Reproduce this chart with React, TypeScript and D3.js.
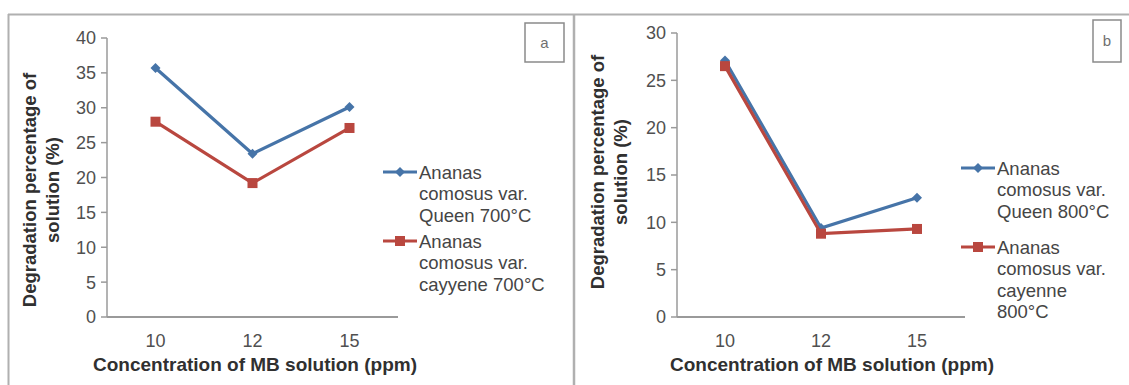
import React from "react";
import * as d3 from "d3";

const categories = ["10", "12", "15"];
const queen700 = [35.7, 23.4, 30.1];
const cayenne700 = [28.0, 19.2, 27.1];
const queen800 = [27.1, 9.4, 12.6];
const cayenne800 = [26.5, 8.8, 9.3];
const ticksA = [0, 5, 10, 15, 20, 25, 30, 35, 40];
const ticksB = [0, 5, 10, 15, 20, 25, 30];
const legendA = [
  ["Ananas", "comosus var.", "Queen 700°C"],
  ["Ananas", "comosus var.", "cayyene 700°C"],
];
const legendB = [
  ["Ananas", "comosus var.", "Queen 800°C"],
  ["Ananas", "comosus var.", "cayenne", "800°C"],
];

const BLUE = "#4674a8";
const RED = "#b9473f";
const FONT = "'Liberation Sans', Arial, sans-serif";

type PanelProps = {
  x0: number; x1: number; y0: number; y1: number; max: number; ticks: number[];
  series: number[][]; legend: string[][]; legendX: number; legendY: number[];
  label: string; box: [number, number, number, number];
  titleX: number; yTitleX: number; yTitleY: number;
};

function Marker({ kind, x, y }: { kind: number; x: number; y: number }) {
  if (kind === 0) {
    const s = 5;
    return <path d={`M${x},${y - s}L${x + s},${y}L${x},${y + s}L${x - s},${y}Z`} fill={BLUE} />;
  }
  return <rect x={x - 5} y={y - 5} width={10} height={10} fill={RED} />;
}

function Panel(p: PanelProps) {
  const xs = d3.scaleBand<string>().domain(categories).range([p.x0, p.x1]);
  const ys = d3.scaleLinear().domain([0, p.max]).range([p.y0, p.y1]);
  const line = d3
    .line<number>()
    .x((_, i) => (xs(categories[i]) as number) + xs.bandwidth() / 2)
    .y((v) => ys(v));
  const colors = [BLUE, RED];
  return (
    <g fontFamily={FONT}>
      <line x1={p.x0} x2={p.x0} y1={ys(0)} y2={ys(p.max)} stroke="#9a9a9a" strokeWidth={1.5} />
      {p.ticks.map((t) => (
        <g key={t}>
          <line x1={p.x0 - 6} x2={p.x0} y1={ys(t)} y2={ys(t)} stroke="#9a9a9a" strokeWidth={1.5} />
          <text x={p.x0 - 11} y={ys(t)} dy="0.36em" textAnchor="end" fontSize={18} fill="#505050">
            {t}
          </text>
        </g>
      ))}
      <line x1={p.x0} x2={p.x1} y1={ys(0)} y2={ys(0)} stroke="#9a9a9a" strokeWidth={2} />
      {categories.map((c) => (
        <text key={c} x={(xs(c) as number) + xs.bandwidth() / 2} y={347} textAnchor="middle" fontSize={18} fill="#505050">
          {c}
        </text>
      ))}
      <text x={p.titleX} y={371} textAnchor="middle" fontSize={19} fontWeight="bold" fill="#303030">
        Concentration of MB solution (ppm)
      </text>
      <g transform={`translate(${p.yTitleX},${p.yTitleY}) rotate(-90)`}>
        <text x={0} y={0} textAnchor="middle" fontSize={18.5} fontWeight="bold" fill="#303030">
          Degradation percentage of
        </text>
        <text x={0} y={23} textAnchor="middle" fontSize={18.5} fontWeight="bold" fill="#303030">
          solution (%)
        </text>
      </g>
      {p.series.map((s, si) => (
        <g key={si}>
          <path d={line(s) || ""} fill="none" stroke={colors[si]} strokeWidth={3.2} />
          {s.map((v, i) => (
            <Marker key={i} kind={si} x={(xs(categories[i]) as number) + xs.bandwidth() / 2} y={ys(v)} />
          ))}
        </g>
      ))}
      {p.legend.map((lines, li) => (
        <g key={li}>
          <line x1={p.legendX - 36} x2={p.legendX - 2} y1={p.legendY[li]} y2={p.legendY[li]} stroke={colors[li]} strokeWidth={3} />
          <Marker kind={li} x={p.legendX - 19} y={p.legendY[li]} />
          {lines.map((t, k) => (
            <text key={k} x={p.legendX} y={p.legendY[li] + k * 21.5} dy="0.36em" fontSize={18.5} fill="#454545">
              {t}
            </text>
          ))}
        </g>
      ))}
      <rect x={p.box[0]} y={p.box[1]} width={p.box[2]} height={p.box[3]} fill="white" stroke="#8a8a8a" strokeWidth={1.5} />
      <text x={p.box[0] + p.box[2] / 2} y={p.box[1] + p.box[3] / 2} dy="0.36em" textAnchor="middle" fontSize={15} fill="#707070">
        {p.label}
      </text>
    </g>
  );
}

export default function App() {
  return (
    <svg
      width={1129}
      height={385}
      style={{ position: "absolute", left: 0, top: 0, background: "white" }}
    >
      <rect x={0} y={0} width={1129} height={385} fill="white" />
      <line x1={8} x2={1129} y1={14.5} y2={14.5} stroke="#b0b0b0" strokeWidth={2} />
      <line x1={8.5} x2={8.5} y1={14} y2={385} stroke="#b0b0b0" strokeWidth={2} />
      <line x1={574} x2={574} y1={14} y2={385} stroke="#b0b0b0" strokeWidth={2.5} />
      <Panel
        x0={107} x1={398} y0={317} y1={38} max={40} ticks={ticksA}
        series={[queen700, cayenne700]} legend={legendA} legendX={419} legendY={[172, 241]}
        label="a" box={[525, 23, 39, 39]} titleX={255} yTitleX={36} yTitleY={190}
      />
      <Panel
        x0={677} x1={965} y0={317} y1={33} max={30} ticks={ticksB}
        series={[queen800, cayenne800]} legend={legendB} legendX={997} legendY={[168, 247]}
        label="b" box={[1093, 20, 28, 42]} titleX={832} yTitleX={604} yTitleY={172}
      />
    </svg>
  );
}
